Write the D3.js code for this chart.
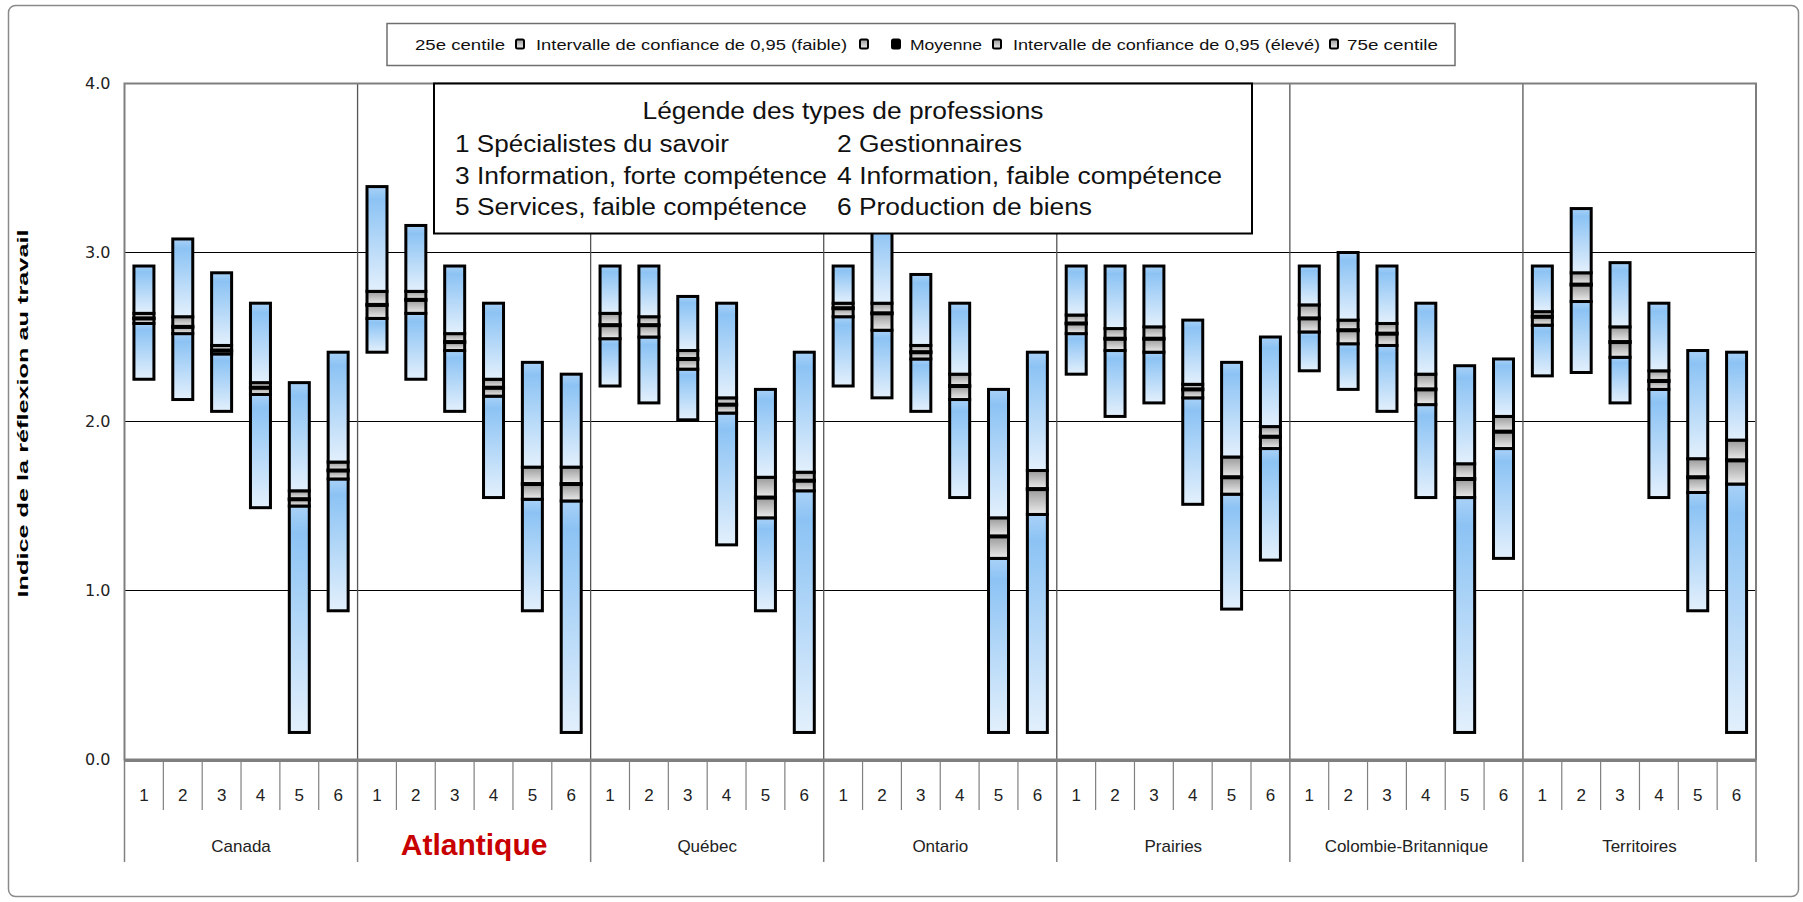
<!DOCTYPE html>
<html><head><meta charset="utf-8">
<script src="https://cdn.jsdelivr.net/npm/d3@7"></script>
<style>body{margin:0;background:#fff} svg{display:block}</style>
</head><body><svg id="c" width="1803" height="902"></svg>
<script>
// ---------- DATA ----------
const regions = ["Canada","Atlantique","Québec","Ontario","Prairies","Colombie-Britannique","Territoires"];
const types = ["1","2","3","4","5","6"];
// 25e centile (bas de la barre)
const p25 = [
  [2.25, 2.13, 2.06, 1.49, 0.16, 0.88],
  [2.41, 2.25, 2.06, 1.55, 0.88, 0.16],
  [2.21, 2.11, 2.01, 1.27, 0.88, 0.16],
  [2.21, 2.14, 2.06, 1.55, 0.16, 0.16],
  [2.28, 2.03, 2.11, 1.51, 0.89, 1.18],
  [2.30, 2.19, 2.06, 1.55, 0.16, 1.19],
  [2.27, 2.29, 2.11, 1.55, 0.88, 0.16]
];
// Intervalle de confiance de 0,95 (faible)
const ciLow = [
  [2.58, 2.52, 2.40, 2.16, 1.50, 1.66],
  [2.61, 2.64, 2.42, 2.15, 1.54, 1.53],
  [2.49, 2.50, 2.31, 2.05, 1.43, 1.59],
  [2.62, 2.54, 2.37, 2.13, 1.19, 1.45],
  [2.52, 2.42, 2.41, 2.14, 1.57, 1.84],
  [2.53, 2.46, 2.45, 2.10, 1.55, 1.84],
  [2.57, 2.71, 2.38, 2.19, 1.58, 1.63]
];
// Moyenne
const mean = [
  [2.61, 2.56, 2.42, 2.20, 1.54, 1.71],
  [2.69, 2.72, 2.47, 2.20, 1.63, 1.63],
  [2.57, 2.57, 2.37, 2.10, 1.55, 1.65],
  [2.67, 2.64, 2.41, 2.21, 1.32, 1.60],
  [2.58, 2.49, 2.49, 2.19, 1.67, 1.91],
  [2.61, 2.54, 2.52, 2.19, 1.66, 1.94],
  [2.62, 2.81, 2.47, 2.24, 1.67, 1.77]
];
// Intervalle de confiance de 0,95 (élevé)
const ciHigh = [
  [2.64, 2.62, 2.45, 2.23, 1.59, 1.76],
  [2.77, 2.77, 2.52, 2.25, 1.73, 1.73],
  [2.64, 2.62, 2.42, 2.14, 1.67, 1.70],
  [2.70, 2.70, 2.45, 2.28, 1.43, 1.71],
  [2.63, 2.55, 2.56, 2.22, 1.79, 1.97],
  [2.69, 2.60, 2.58, 2.28, 1.75, 2.03],
  [2.65, 2.88, 2.56, 2.30, 1.78, 1.89]
];
// 75e centile (haut de la barre)
const p75 = [
  [2.92, 3.08, 2.88, 2.70, 2.23, 2.41],
  [3.39, 3.16, 2.92, 2.70, 2.35, 2.28],
  [2.92, 2.92, 2.74, 2.70, 2.19, 2.41],
  [2.92, 3.20, 2.87, 2.70, 2.19, 2.41],
  [2.92, 2.92, 2.92, 2.60, 2.35, 2.50],
  [2.92, 3.00, 2.92, 2.70, 2.33, 2.37],
  [2.92, 3.26, 2.94, 2.70, 2.42, 2.41]
];
const yTicks = [0, 1, 2, 3, 4];
const yTitle = "Indice de la réflexion au travail";
const seriesLegend = ["25e centile", "Intervalle de confiance de 0,95 (faible)", "", "Moyenne", "Intervalle de confiance de 0,95 (élevé)", "75e centile"];
const typeLegendTitle = "Légende des types de professions";
const typeLegend = ["1 Spécialistes du savoir", "2 Gestionnaires", "3 Information, forte compétence",
                    "4 Information, faible compétence", "5 Services, faible compétence", "6 Production de biens"];
const highlightRegion = "Atlantique";

// ---------- LAYOUT ----------
const svg = d3.select("#c");
const L = 124.5, R = 1756, T = 83.5, B = 759.5;
const x0 = d3.scaleBand().domain(regions).range([L, R]);
const x1 = d3.scaleBand().domain(types).range([0, x0.bandwidth()]);
const y = d3.scaleLinear().domain([0, 4]).range([B, T]);
const barW = 20;

const defs = svg.append("defs");
const gb = defs.append("linearGradient").attr("id", "gBlue").attr("x1", 0).attr("y1", 0).attr("x2", 0).attr("y2", 1);
gb.append("stop").attr("offset", "0").attr("stop-color", "#a9d1f7");
gb.append("stop").attr("offset", "0.12").attr("stop-color", "#8cc3f4");
gb.append("stop").attr("offset", "1").attr("stop-color", "#e3f0fc");
const gg = defs.append("linearGradient").attr("id", "gGrey").attr("x1", 0).attr("y1", 0).attr("x2", 0).attr("y2", 1);
gg.append("stop").attr("offset", "0").attr("stop-color", "#9a9a9a");
gg.append("stop").attr("offset", "1").attr("stop-color", "#ececec");

// outer frame
svg.append("rect").attr("x", 8.5).attr("y", 5.5).attr("width", 1790).attr("height", 891)
  .attr("rx", 7).attr("fill", "#fff").attr("stroke", "#8a8a8a").attr("stroke-width", 1.5);

// gridlines
svg.append("g").selectAll("line").data(yTicks.filter(d => d > 0 && d < 4)).join("line")
  .attr("x1", L).attr("x2", R).attr("y1", d => y(d)).attr("y2", d => y(d))
  .attr("stroke", "#000").attr("stroke-width", 1);

// group separators inside plot
svg.append("g").selectAll("line").data(regions.slice(1)).join("line")
  .attr("x1", d => x0(d)).attr("x2", d => x0(d)).attr("y1", T).attr("y2", B)
  .attr("stroke", "#555").attr("stroke-width", 1.3);

// bars
const bars = [];
regions.forEach((r, i) => types.forEach((t, j) => {
  bars.push({ r, t, p25: p25[i][j], lo: ciLow[i][j], m: mean[i][j], hi: ciHigh[i][j], p75: p75[i][j] });
}));
const gBars = svg.append("g");
bars.forEach(b => {
  const cx = x0(b.r) + x1(b.t) + x1.bandwidth() / 2;
  const segs = [[b.p25, b.lo, "url(#gBlue)"], [b.lo, b.m, "url(#gGrey)"], [b.m, b.hi, "url(#gGrey)"], [b.hi, b.p75, "url(#gBlue)"]];
  const g = gBars.append("g");
  g.selectAll("rect.seg").data(segs).join("rect").attr("class", "seg")
    .attr("x", cx - barW / 2).attr("width", barW)
    .attr("y", d => y(d[1])).attr("height", d => y(d[0]) - y(d[1]))
    .attr("fill", d => d[2]).attr("stroke", "#000").attr("stroke-width", 3);
  g.append("rect").attr("x", cx - barW / 2 - 1.5).attr("width", barW + 3)
    .attr("y", y(b.m) - 2).attr("height", 4).attr("fill", "#000");
});

// plot border
svg.append("rect").attr("x", L).attr("y", T).attr("width", R - L).attr("height", B - T)
  .attr("fill", "none").attr("stroke", "#7f7f7f").attr("stroke-width", 2);

// y axis labels
const yAxis = d3.axisLeft(y).tickValues(yTicks).tickFormat(d3.format(".1f")).tickSize(0).tickPadding(14);
const ya = svg.append("g").attr("transform", `translate(${L},0)`).call(yAxis);
ya.select(".domain").remove();
ya.selectAll("text").attr("font-family", "DejaVu Sans, sans-serif").attr("font-size", 16).attr("fill", "#222");

svg.append("text").attr("transform", `translate(28,${(T + B) / 2 - 8}) rotate(-90)`)
  .attr("text-anchor", "middle").attr("font-family", "Liberation Sans, Arial, sans-serif")
  .attr("font-weight", "bold").attr("font-size", 15).attr("fill", "#000")
  .attr("textLength", 368).attr("lengthAdjust", "spacingAndGlyphs").text(yTitle);

// category axis
const cat = svg.append("g");
cat.append("line").attr("x1", L).attr("x2", R).attr("y1", B + 1).attr("y2", B + 1)
  .attr("stroke", "#7f7f7f").attr("stroke-width", 3);
regions.forEach(r => {
  types.slice(1).forEach(t => {
    const xx = x0(r) + x1(t);
    cat.append("line").attr("x1", xx).attr("x2", xx).attr("y1", B).attr("y2", 810)
      .attr("stroke", "#808080").attr("stroke-width", 1.2);
  });
  types.forEach(t => {
    cat.append("text").attr("x", x0(r) + x1(t) + x1.bandwidth() / 2).attr("y", 801)
      .attr("text-anchor", "middle").attr("font-family", "Liberation Sans, Arial, sans-serif")
      .attr("font-size", 17).attr("fill", "#222").text(t);
  });
  const hl = r === highlightRegion;
  cat.append("text").attr("x", x0(r) + x0.bandwidth() / 2).attr("y", hl ? 855 : 852)
    .attr("text-anchor", "middle").attr("font-family", "Liberation Sans, Arial, sans-serif")
    .attr("font-size", hl ? 30 : 17).attr("font-weight", hl ? "bold" : "normal")
    .attr("fill", hl ? "#c80000" : "#222").text(r);
});
regions.concat(["__end"]).forEach((r, k) => {
  const xx = r === "__end" ? R : x0(r);
  cat.append("line").attr("x1", xx).attr("x2", xx).attr("y1", B).attr("y2", 862)
    .attr("stroke", "#808080").attr("stroke-width", 1.5);
});

// types legend box (over the plot)
const tl = svg.append("g");
tl.append("rect").attr("x", 434).attr("y", T).attr("width", 818).attr("height", 150)
  .attr("fill", "#fff").attr("stroke", "#000").attr("stroke-width", 2);
const tFont = "Liberation Sans, Arial, sans-serif";
tl.append("text").attr("x", 843).attr("y", 119).attr("text-anchor", "middle")
  .attr("font-family", tFont).attr("font-size", 23).attr("fill", "#111")
  .attr("textLength", 401).attr("lengthAdjust", "spacingAndGlyphs").text(typeLegendTitle);
const colX = [455, 837];
const rowY = [152, 184, 215];
const widths = [274, 185, 372, 385, 352, 255];
typeLegend.forEach((s, k) => {
  tl.append("text").attr("x", colX[k % 2]).attr("y", rowY[Math.floor(k / 2)])
    .attr("font-family", tFont).attr("font-size", 23).attr("fill", "#111")
    .attr("textLength", widths[k]).attr("lengthAdjust", "spacingAndGlyphs").text(s);
});

// series legend (top)
const sl = svg.append("g");
sl.append("rect").attr("x", 387).attr("y", 23.5).attr("width", 1068).attr("height", 42)
  .attr("fill", "#fff").attr("stroke", "#6f6f6f").attr("stroke-width", 1.5);
const legTextX = [415, 536, null, 910, 1013, 1347];
const legTextW = [90, 311, 0, 72, 307, 91];
const legMarkX = [null, 864, 896, 997, 1334, null];
const legMarkX2 = [520, null, null, null, null, null];
const markers = [520, 864, 896, 997, 1334];
const markerFill = ["url(#gGrey)", "url(#gGrey)", "#000", "url(#gGrey)", "url(#gGrey)"];
markers.forEach((mx, k) => {
  sl.append("rect").attr("x", mx - 4).attr("y", 39.5).attr("width", 8).attr("height", 9).attr("rx", 1.5)
    .attr("fill", markerFill[k]).attr("stroke", "#000").attr("stroke-width", 2);
});
seriesLegend.forEach((s, k) => {
  if (!s) return;
  sl.append("text").attr("x", legTextX[k]).attr("y", 49.5)
    .attr("font-family", tFont).attr("font-size", 15).attr("fill", "#111")
    .attr("textLength", legTextW[k]).attr("lengthAdjust", "spacingAndGlyphs").text(s);
});
</script></body></html>
